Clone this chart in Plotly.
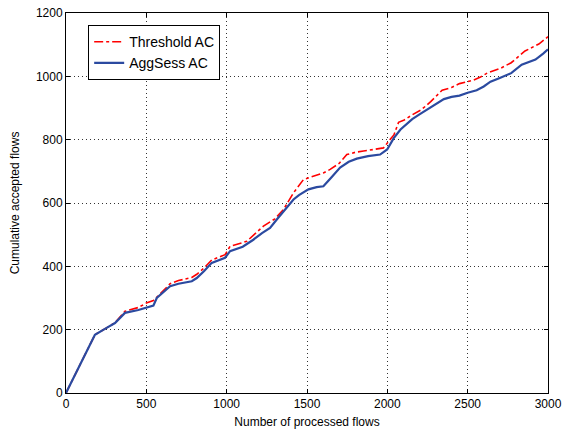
import plotly.graph_objects as go

# Number of processed flows / cumulative accepted flows
blue_x = [0, 180, 250, 305, 367, 450, 544, 565, 648, 700, 783, 814, 860, 907, 990, 1021,
          1100, 1166, 1220, 1270, 1312, 1374, 1416, 1450, 1509, 1560, 1602, 1650, 1706,
          1760, 1810, 1880, 1955, 1999, 2040, 2082, 2120, 2155, 2200, 2248, 2300, 2352,
          2400, 2449, 2500, 2556, 2600, 2642, 2700, 2771, 2836, 2880, 2922, 2970, 3000]
blue_y = [0, 184, 205, 221, 253, 262, 276, 300, 337, 345, 353, 363, 385, 411, 427, 448,
          462, 484, 505, 521, 548, 585, 611, 625, 643, 650, 653, 680, 712,
          730, 740, 748, 753, 769, 805, 832, 850, 865, 880, 896, 912, 928,
          935, 939, 948, 956, 968, 983, 995, 1010, 1037, 1045, 1053, 1072, 1085]

red_x = [0, 180, 250, 305, 367, 450, 500, 544, 600, 648, 700, 783, 814, 860, 907, 990,
         1021, 1125, 1229, 1300, 1353, 1416, 1478, 1540, 1602, 1644, 1700, 1748, 1800,
         1852, 1910, 1976, 2018, 2041, 2070, 2105, 2160, 2213, 2270, 2341, 2400, 2449,
         2535, 2580, 2621, 2707, 2771, 2857, 2943, 3000]
red_y = [0, 184, 205, 222, 258, 270, 284, 292, 320, 345, 355, 365, 375, 395, 420, 437,
         463, 479, 527, 550, 579, 632, 674, 684, 695, 706, 725, 753, 760,
         764, 768, 774, 801, 815, 855, 862, 880, 895, 920, 956, 965, 977,
         988, 998, 1010, 1026, 1043, 1080, 1102, 1125]

x_ticks = [0, 500, 1000, 1500, 2000, 2500, 3000]
y_ticks = [0, 200, 400, 600, 800, 1000, 1200]

fig = go.Figure()
fig.add_trace(go.Scatter(x=red_x, y=red_y, mode="lines", name="Threshold AC",
                         line=dict(color="#ff0000", width=1.6, dash="dashdot")))
fig.add_trace(go.Scatter(x=blue_x, y=blue_y, mode="lines", name="AggSess AC",
                         line=dict(color="#2b4aa0", width=2.2)))

axis_common = dict(showline=True, linecolor="black", linewidth=1, mirror="ticks",
                   ticks="inside", ticklen=4, tickcolor="black", automargin=False,
                   showgrid=True, gridcolor="#333333", griddash="1px,3px", gridwidth=1,
                   zeroline=False, tickfont=dict(family="Liberation Sans, Arial", size=12, color="black"))

fig.update_layout(
    width=563, height=433,
    margin=dict(l=66, r=15, t=13, b=40),
    paper_bgcolor="white", plot_bgcolor="white",
    font=dict(family="Liberation Sans, Arial", size=12, color="black"),
    legend=dict(x=0.046, y=0.968, xanchor="left", yanchor="top",
                bordercolor="black", borderwidth=1, bgcolor="white",
                font=dict(size=14), tracegroupgap=0),
    xaxis=dict(range=[0, 3000], tickvals=x_ticks,
               title=dict(text="Number of processed flows", standoff=7, font=dict(size=12)),
               **axis_common),
    yaxis=dict(range=[0, 1200], tickvals=y_ticks,
               title=dict(text="Cumulative accepted flows", standoff=13, font=dict(size=12)),
               **axis_common),
)

fig.write_html("out.html", config={"displayModeBar": False},
               post_script="document.body.style.margin='0';document.body.style.overflow='hidden';")
